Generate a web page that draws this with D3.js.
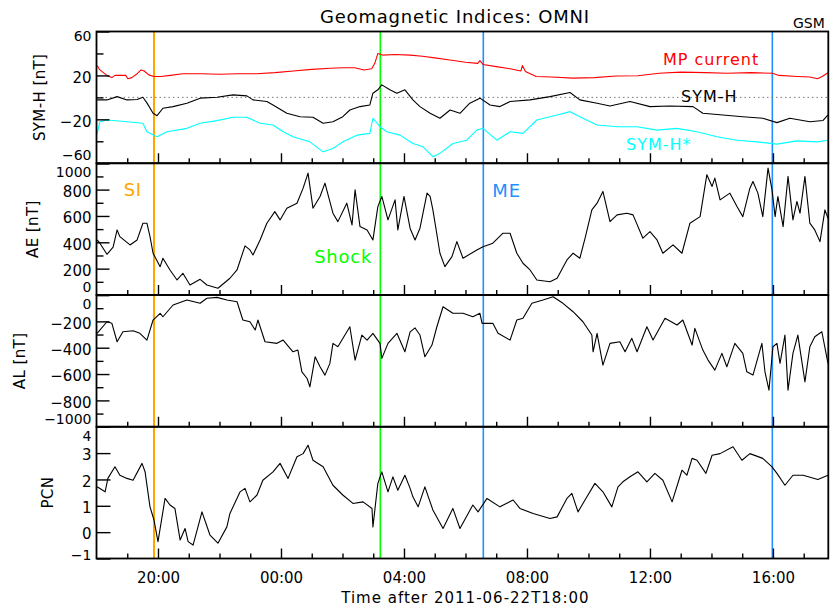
<!DOCTYPE html>
<html>
<head>
<meta charset="utf-8">
<script src="https://cdn.jsdelivr.net/npm/d3@7"></script>
<style>
  body { margin: 0; background: #fff; }
  text { font-family: "DejaVu Sans", sans-serif; }
</style>
</head>
<body>
<svg id="chart" width="830" height="608"></svg>
<script>
// time is in hours after 2011-06-22T18:00
var mpCurrent = [[0.02,29],[0.11,25],[0.34,20],[0.5,18],[0.6,20],[0.95,20],[1.02,17],[1.15,18],[1.3,21],[1.45,25],[1.55,24],[1.7,20.5],[1.87,19],[2.1,19],[2.4,20],[2.8,21.5],[3.4,21.5],[4.0,21],[4.6,21.5],[5.2,21.5],[5.8,22.5],[6.4,24],[7.0,25.5],[7.6,26.5],[8.0,27],[8.4,27],[8.7,25],[8.95,26],[9.05,31],[9.15,40],[9.3,38.5],[9.7,39],[10.2,38.5],[10.6,37.5],[11.0,36],[11.5,34],[12.0,32],[12.4,31],[12.47,33.5],[12.57,30],[13.0,28],[13.45,26],[13.8,24],[13.85,29],[13.95,23.5],[14.3,19],[14.8,18.5],[15.5,17.5],[16.2,18],[16.9,19.5],[17.6,19.7],[18.3,22],[19.0,23],[19.8,22.5],[20.5,22],[21.3,22.5],[21.98,22],[22.2,20],[22.8,19],[23.2,18.5],[23.45,17],[23.6,19],[23.79,22.5]];

var symH = [[0.02,-2.3],[0.34,-2.3],[0.67,0.7],[0.99,-2.3],[1.32,-2],[1.51,0.1],[1.64,-5],[1.84,-14.5],[1.97,-16.7],[2.16,-9.9],[2.49,-8.4],[2.94,-5.3],[3.37,-0.7],[3.92,0.1],[4.44,2.3],[4.89,1.4],[5.09,-2.3],[5.54,-3.8],[5.74,-6.9],[6.19,-14.5],[6.62,-17.6],[7.04,-18.1],[7.37,-23.6],[7.69,-22.2],[8.01,-17.6],[8.24,-11.5],[8.57,-8.4],[8.89,-6.9],[8.99,3.8],[9.15,6.9],[9.28,11.4],[9.54,6.9],[9.77,3.8],[10.03,6.9],[10.29,-2.3],[10.52,-8.4],[10.85,-14.5],[11.17,-19],[11.5,-11.5],[11.82,-14.5],[12.14,-5.3],[12.47,-0.7],[12.8,-6.9],[13.12,-8.4],[13.45,-3.8],[14.1,-2.3],[14.75,0.7],[15.4,4.4],[15.72,-2.3],[16.28,-5.3],[16.7,-7.8],[17.35,-3.8],[18.0,-8.4],[18.65,-7.8],[19.4,-8.4],[19.72,-14.5],[20.37,-16],[21.02,-17.6],[21.67,-19],[22.13,-23],[22.55,-19],[23.2,-22.2],[23.63,-21],[23.79,-16]];

var symHStar = [[0.02,-32.8],[0.11,-22.2],[0.34,-20.6],[0.99,-22.2],[1.51,-23.6],[1.64,-31.3],[1.97,-35.9],[2.29,-31.3],[2.94,-28.2],[3.37,-23.6],[3.92,-21.2],[4.44,-18.1],[4.89,-18.1],[5.32,-23.6],[5.74,-25.2],[6.07,-31.3],[6.39,-35.9],[6.94,-40.5],[7.37,-49.6],[7.69,-46.5],[8.01,-40.5],[8.47,-34.4],[8.89,-32.8],[8.99,-19],[9.22,-26.7],[9.44,-31.3],[9.87,-34.4],[10.29,-42],[10.62,-45],[10.94,-54],[11.17,-51],[11.59,-42],[12.04,-39],[12.37,-29.8],[12.57,-28.2],[13.02,-39],[13.45,-31.3],[13.87,-32.8],[14.32,-20.6],[14.98,-16],[15.4,-13],[15.82,-19],[16.28,-25.2],[16.93,-26.7],[17.58,-26.7],[18.23,-29.8],[18.88,-28.2],[19.53,-31.3],[20.18,-35.9],[20.83,-39],[21.48,-40.5],[22.13,-42.6],[22.78,-39.6],[23.43,-40.5],[23.79,-39]];

var aeIndex = [[0.02,418],[0.11,393],[0.34,309],[0.54,363],[0.67,494],[0.76,443],[1.09,380],[1.32,418],[1.51,545],[1.64,545],[1.74,443],[1.84,317],[2.07,215],[2.16,279],[2.39,190],[2.62,114],[2.81,165],[3.04,76],[3.37,119],[3.59,76],[3.95,51],[4.34,127],[4.57,190],[4.83,373],[4.99,342],[5.09,304],[5.32,418],[5.54,545],[5.8,633],[5.97,570],[6.19,659],[6.52,697],[6.72,811],[6.88,925],[7.04,659],[7.27,748],[7.43,849],[7.69,621],[7.85,557],[8.14,697],[8.31,532],[8.41,798],[8.57,519],[8.8,494],[8.99,418],[9.15,671],[9.28,748],[9.48,570],[9.71,722],[9.8,494],[10.0,748],[10.2,505],[10.36,418],[10.52,507],[10.75,773],[10.85,748],[10.94,646],[11.17,317],[11.33,215],[11.56,291],[11.72,405],[11.92,279],[12.37,342],[12.57,367],[12.89,393],[13.22,469],[13.45,469],[13.67,317],[13.87,241],[14.1,190],[14.32,114],[14.75,101],[14.98,127],[15.3,266],[15.5,317],[15.72,279],[15.89,431],[16.11,646],[16.28,697],[16.47,786],[16.7,557],[16.93,608],[17.25,621],[17.45,608],[17.77,431],[18.0,481],[18.23,418],[18.42,317],[18.75,380],[19.04,317],[19.3,545],[19.63,595],[19.85,913],[20.02,824],[20.11,887],[20.28,722],[20.6,773],[20.83,671],[21.02,595],[21.25,811],[21.35,862],[21.51,773],[21.67,595],[21.84,963],[21.97,798],[22.07,595],[22.16,748],[22.33,519],[22.49,900],[22.65,570],[22.78,710],[22.88,621],[23.04,900],[23.2,545],[23.36,494],[23.53,405],[23.69,646],[23.79,583]];

var alIndex = [[0.02,-291],[0.34,-203],[0.5,-215],[0.67,-355],[0.86,-279],[1.19,-271],[1.41,-291],[1.64,-342],[1.84,-190],[2.07,-139],[2.16,-165],[2.49,-76],[2.94,-38],[3.37,-63],[3.59,-25],[3.92,-18],[4.24,-38],[4.57,-51],[4.76,-190],[4.99,-203],[5.16,-266],[5.25,-190],[5.48,-355],[5.87,-367],[6.07,-342],[6.39,-431],[6.55,-418],[6.68,-583],[6.85,-634],[6.94,-697],[7.11,-469],[7.27,-545],[7.43,-608],[7.59,-519],[7.69,-367],[7.85,-393],[8.24,-241],[8.41,-494],[8.63,-304],[8.8,-342],[8.99,-291],[9.22,-367],[9.28,-481],[9.48,-367],[9.77,-291],[10.03,-431],[10.2,-280],[10.36,-250],[10.52,-304],[10.68,-469],[10.91,-380],[11.07,-241],[11.27,-89],[11.59,-139],[11.92,-139],[12.24,-165],[12.47,-139],[12.54,-215],[12.89,-215],[13.06,-291],[13.45,-342],[13.67,-190],[13.87,-177],[14.16,-63],[14.52,-38],[14.85,-13],[15.17,-63],[15.5,-127],[15.82,-203],[16.11,-304],[16.15,-431],[16.28,-291],[16.47,-532],[16.7,-367],[17.02,-355],[17.19,-431],[17.41,-329],[17.58,-431],[17.9,-241],[18.1,-342],[18.49,-177],[18.88,-228],[19.07,-190],[19.37,-380],[19.46,-253],[19.72,-418],[19.89,-494],[20.11,-570],[20.34,-443],[20.5,-545],[20.76,-367],[21.02,-443],[21.15,-583],[21.35,-608],[21.64,-367],[21.74,-583],[21.87,-722],[22.0,-393],[22.13,-367],[22.23,-519],[22.39,-304],[22.49,-722],[22.65,-443],[22.81,-304],[23.04,-659],[23.2,-393],[23.36,-317],[23.59,-279],[23.79,-519]];

var pcnIndex = [[0.02,1.72],[0.28,1.53],[0.37,2.04],[0.6,2.48],[0.76,2.16],[0.99,2.04],[1.19,1.97],[1.48,2.61],[1.58,2.29],[1.74,0.96],[1.87,0.46],[2.0,-0.36],[2.23,1.28],[2.39,1.03],[2.55,0.9],[2.72,-0.3],[2.88,0.14],[2.98,-0.36],[3.14,-0.49],[3.3,0.2],[3.43,0.77],[3.69,-0.11],[3.95,-0.42],[4.24,0.2],[4.34,0.71],[4.67,1.53],[4.83,1.66],[4.99,1.15],[5.22,1.41],[5.41,1.97],[5.74,2.29],[5.97,2.61],[6.23,2.04],[6.52,2.86],[6.72,2.98],[6.88,3.3],[7.04,2.73],[7.37,2.48],[7.69,1.78],[8.01,1.41],[8.34,1.09],[8.67,1.15],[8.96,0.9],[8.99,0.2],[9.15,1.85],[9.28,2.29],[9.48,1.53],[9.64,2.1],[9.8,1.59],[10.03,2.16],[10.2,1.66],[10.29,1.34],[10.46,0.96],[10.68,1.72],[10.94,0.84],[11.27,0.14],[11.59,0.9],[11.82,0.14],[12.24,1.03],[12.41,0.77],[12.7,1.28],[13.12,0.96],[13.55,1.22],[13.77,0.9],[14.2,0.71],[14.75,0.52],[14.98,0.58],[15.3,1.28],[15.46,1.47],[15.66,0.77],[15.95,1.34],[16.21,1.85],[16.47,1.53],[16.76,0.96],[16.96,1.72],[17.12,1.91],[17.35,2.1],[17.61,2.29],[17.9,1.91],[18.16,2.23],[18.42,1.97],[18.72,1.15],[19.04,2.35],[19.2,2.16],[19.37,2.8],[19.53,2.73],[19.82,2.23],[20.02,2.92],[20.28,2.98],[20.7,3.24],[20.99,2.73],[21.25,2.98],[21.67,2.8],[21.97,2.48],[22.13,2.23],[22.39,1.78],[22.65,2.16],[22.98,2.16],[23.46,2.0],[23.79,2.16]];

// event markers (hours after 18:00)
var eventNames = ["SI", "Shock", "ME", ""];
var eventTimes = [1.87, 9.23, 12.58, 21.98];

// x axis
var timeRange = [0, 23.8];
var majorHours = [2, 6, 10, 14, 18, 22];
var majorLabels = ["20:00", "00:00", "04:00", "08:00", "12:00", "16:00"];
var minorHours = d3.range(1, 24).filter(function(h) { return majorHours.indexOf(h) < 0; });

var panels = [
  {title: "SYM-H [nT]", domain: [-60, 60], major: [-60, -20, 20, 60], minor: [-40, 0, 40], titleX: 40,
   series: [{data: mpCurrent, color: "#ff0000"}, {data: symH, color: "#000000"}, {data: symHStar, color: "#00ffff"}]},
  {title: "AE [nT]", domain: [0, 1000], major: [0, 200, 400, 600, 800, 1000], minor: [100, 300, 500, 700, 900], titleX: 33,
   series: [{data: aeIndex, color: "#000000"}]},
  {title: "AL [nT]", domain: [-1000, 0], major: [-1000, -800, -600, -400, -200, 0], minor: [-900, -700, -500, -300, -100], titleX: 20,
   series: [{data: alIndex, color: "#000000"}]},
  {title: "PCN", domain: [-1, 4], major: [-1, 0, 1, 2, 3, 4], minor: [], titleX: 48,
   series: [{data: pcnIndex, color: "#000000"}]}
];

var svg = d3.select("#chart");
var left = 96.5, right = 828.3;
var panelTop = 31.5, panelH = 131.75;
var x = d3.scaleLinear().domain(timeRange).range([left, right]);
var bottomAll = panelTop + panelH * panels.length;

// title and frame labels
svg.append("text")
  .attr("x", 320).attr("y", 23.3)
  .attr("font-size", 18).attr("letter-spacing", 0.8)
  .text("Geomagnetic Indices: OMNI");
svg.append("text")
  .attr("x", 793).attr("y", 28.3)
  .attr("font-size", 14)
  .text("GSM");

// event lines under the data
var eventColors = ["#ffa500", "#00ff00", "#1e90ff", "#1e90ff"];
svg.append("g").selectAll("line")
  .data(eventTimes)
  .enter()
  .append("line")
    .attr("x1", function(d) { return x(d); })
    .attr("x2", function(d) { return x(d); })
    .attr("y1", panelTop)
    .attr("y2", bottomAll)
    .attr("stroke", function(d, i) { return eventColors[i]; })
    .attr("stroke-width", function(d, i) { return i == 0 ? 2 : 1.6; });

panels.forEach(function(p, i) {
  var top = panelTop + i * panelH, bottom = top + panelH;
  var y = d3.scaleLinear().domain(p.domain).range([bottom, top]);
  var g = svg.append("g");

  // dotted zero line for SYM-H
  if (i == 0) {
    g.append("line")
      .attr("x1", left).attr("x2", right)
      .attr("y1", y(0)).attr("y2", y(0))
      .attr("stroke", "#777").attr("stroke-width", 1)
      .attr("stroke-dasharray", "1.5,3");
  }

  var line = d3.line()
    .x(function(d) { return x(d[0]); })
    .y(function(d) { return y(d[1]); });

  g.selectAll(".series")
    .data(p.series)
    .enter()
    .append("path")
      .attr("class", "series")
      .attr("fill", "none")
      .attr("stroke", function(d) { return d.color; })
      .attr("stroke-width", 1.1)
      .attr("stroke-linejoin", "round")
      .attr("d", function(d) { return line(d.data); });

  // y axis, ticks pointing inward like IDL
  var yAxis = g.append("g")
    .attr("transform", "translate(" + left + ",0)")
    .call(d3.axisLeft(y).tickValues(p.major).tickFormat(d3.format("d"))
      .tickSizeInner(i == 3 ? -14 : -13).tickSizeOuter(0).tickPadding(5));
  yAxis.select(".domain").remove();
  yAxis.selectAll(".tick line").attr("stroke-width", 1.4);
  // end labels are nudged into the panel so neighbouring panels don't collide
  yAxis.selectAll(".tick text")
    .attr("font-size", function(d) { return (d == p.domain[0] || d == p.domain[1]) ? 14 : 15; })
    .attr("font-family", "DejaVu Sans, sans-serif")
    .attr("fill", "#000")
    .attr("y", function(d) {
      if (d == p.domain[1]) return i == 0 ? 5 : 9;
      if (d == p.domain[0]) return i == 3 ? -3 : -8;
      return 2;
    });

  if (p.minor.length) {
    var yMinor = g.append("g")
      .attr("transform", "translate(" + left + ",0)")
      .call(d3.axisLeft(y).tickValues(p.minor).tickFormat("").tickSizeInner(-7).tickSizeOuter(0));
    yMinor.select(".domain").remove();
    yMinor.selectAll(".tick line").attr("stroke-width", 1.4);
  }

  // x axis at the bottom of every panel
  var xAxis = g.append("g")
    .attr("transform", "translate(0," + bottom + ")")
    .call(d3.axisBottom(x).tickValues(majorHours)
      .tickFormat(function(d, k) { return i == 3 ? majorLabels[k] : ""; })
      .tickSizeInner(-10).tickSizeOuter(0).tickPadding(14));
  xAxis.select(".domain").remove();
  xAxis.selectAll(".tick line").attr("stroke-width", 1.4);
  xAxis.selectAll(".tick text")
    .attr("font-size", 15).attr("font-family", "DejaVu Sans, sans-serif").attr("fill", "#000");

  var xMinor = g.append("g")
    .attr("transform", "translate(0," + bottom + ")")
    .call(d3.axisBottom(x).tickValues(minorHours).tickFormat("").tickSizeInner(-5).tickSizeOuter(0));
  xMinor.select(".domain").remove();
  xMinor.selectAll(".tick line").attr("stroke-width", 1.4);

  // frame
  g.append("rect")
    .attr("x", left).attr("y", top)
    .attr("width", right - left).attr("height", panelH)
    .attr("fill", "none").attr("stroke", "#000").attr("stroke-width", 1.8);

  // rotated axis title
  g.append("text")
    .attr("transform", "translate(" + (p.titleX + 5) + "," + ((top + bottom) / 2) + ") rotate(-90)")
    .attr("text-anchor", "middle")
    .attr("font-size", 15).attr("letter-spacing", 0.4)
    .text(p.title);
});

// curve names in the SYM-H panel
svg.append("text").attr("x", 663).attr("y", 65)
  .attr("font-size", 16).attr("letter-spacing", 1).attr("fill", "#ff0000")
  .text("MP current");
svg.append("text").attr("x", 681).attr("y", 101.5)
  .attr("font-size", 16).attr("letter-spacing", 1).attr("fill", "#000")
  .text("SYM-H");
svg.append("text").attr("x", 626).attr("y", 150)
  .attr("font-size", 16).attr("letter-spacing", 1).attr("fill", "#00ffff")
  .text("SYM-H*");

// event names
var eventLabelY = [196, 262.5, 196.5];
svg.append("g").selectAll("text")
  .data(eventNames.slice(0, 3))
  .enter()
  .append("text")
    .attr("x", function(d, i) { return i < 2 ? x(eventTimes[i]) - (i == 0 ? 12 : 8) : x(eventTimes[i]) + 9; })
    .attr("y", function(d, i) { return eventLabelY[i]; })
    .attr("text-anchor", function(d, i) { return i < 2 ? "end" : "start"; })
    .attr("font-size", 18).attr("letter-spacing", 0.8)
    .attr("fill", function(d, i) { return eventColors[i]; })
    .text(function(d) { return d; });

// x axis title
svg.append("text")
  .attr("x", (left + right) / 2 + 3).attr("y", 603)
  .attr("text-anchor", "middle")
  .attr("font-size", 15).attr("letter-spacing", 1)
  .text("Time after 2011-06-22T18:00");
</script>
</body>
</html>
